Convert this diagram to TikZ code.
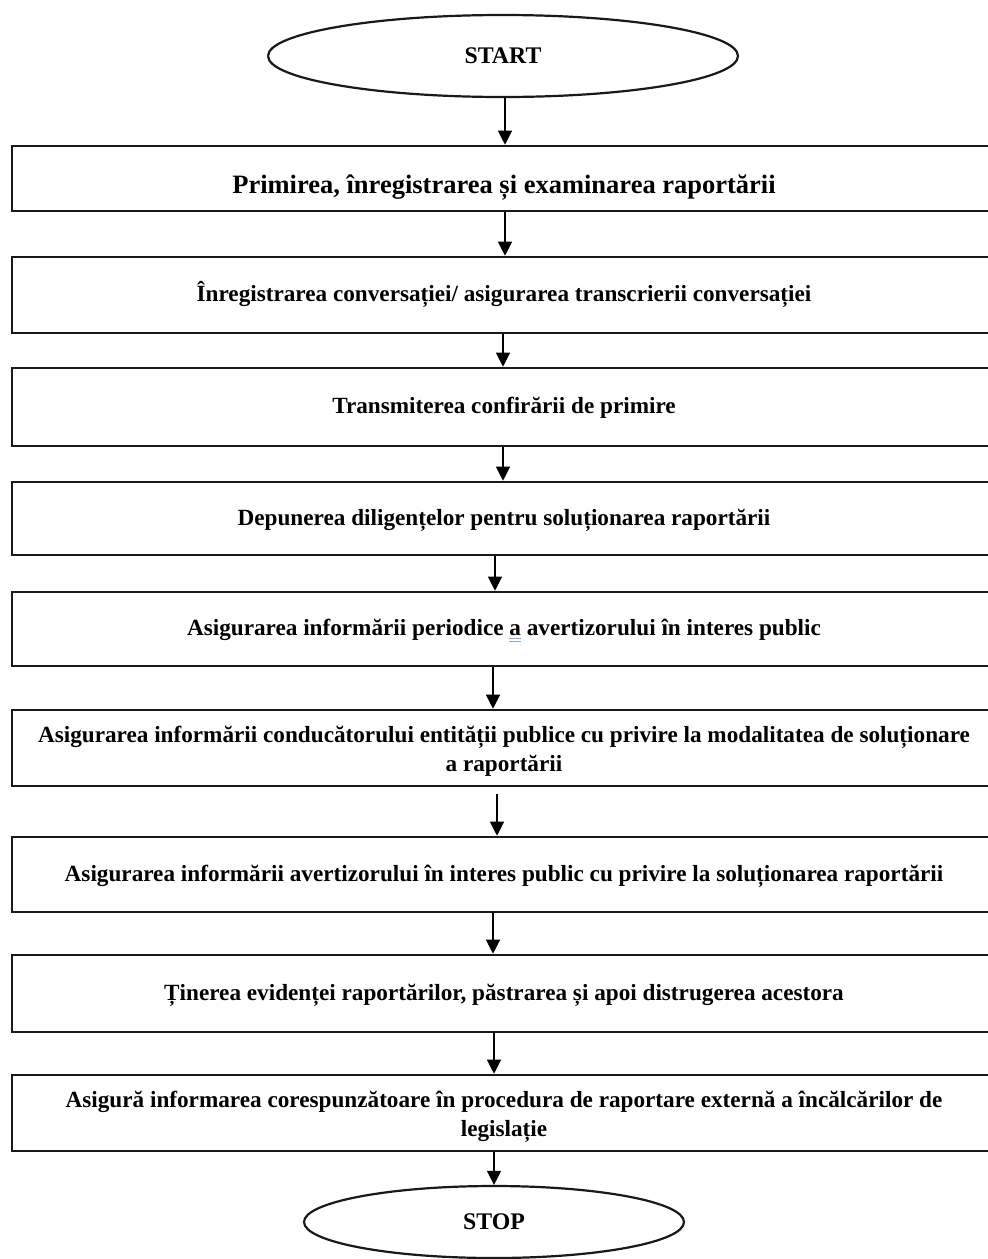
\documentclass[tikz,border=0pt]{standalone}
\usepackage{fontspec}
\setmainfont{Liberation Serif}
\usetikzlibrary{shapes.geometric,arrows.meta}
\definecolor{ulblue}{RGB}{140,165,215}
\newcommand\grammarmark[1]{\setbox0\hbox{#1}\rlap{\textcolor{ulblue}{\rule[-3.5pt]{\wd0}{0.9pt}}}\rlap{\textcolor{ulblue}{\rule[-6pt]{\wd0}{0.9pt}}}#1}
\begin{document}
\begin{tikzpicture}[x=1pt,y=-1pt,
  every node/.style={font=\fontsize{23.2}{29}\selectfont\bfseries},
  procbox/.style={draw=black!90, line width=2.6pt, rectangle, minimum width=984pt, inner sep=0pt, text height=16pt, text depth=3pt},
  procboxtwo/.style={procbox, align=center, text height=50pt, text depth=4pt},
  term/.style={draw=black!90, line width=2.2pt, ellipse, inner sep=0pt, font=\fontsize{23.8}{29}\selectfont\bfseries},
  arr/.style={line width=1.2pt, -{Triangle[width=14pt,length=14pt]}}
]
\useasboundingbox (0,0) rectangle (988,1259);
\fill[white] (0,0) rectangle (988,1259);
\clip (0,0) rectangle (988,1259);

\node[term, minimum width=470pt, minimum height=82pt] (start) at (503,56) {START};
\node[procbox, minimum height=65pt, text height=32pt, font=\fontsize{26.5}{31}\selectfont\bfseries] (b1) at (504,178.5) {Primirea, înregistrarea și examinarea raportării};
\node[procbox, minimum height=76pt] (b2) at (504,295) {Înregistrarea conversației/ asigurarea transcrierii conversației};
\node[procbox, minimum height=78pt] (b3) at (504,407) {Transmiterea confirării de primire};
\node[procbox, minimum height=73pt] (b4) at (504,518.5) {Depunerea diligențelor pentru soluționarea raportării};
\node[procbox, minimum height=74pt] (b5) at (504,629) {Asigurarea informării periodice \grammarmark{a} avertizorului în interes public};
\node[procboxtwo, minimum height=76pt] (b6) at (504,748) {Asigurarea informării conducătorului entității publice cu privire la modalitatea de soluționare\\ a raportării};
\node[procbox, minimum height=75pt] (b7) at (504,874.5) {Asigurarea informării avertizorului în interes public cu privire la soluționarea raportării};
\node[procbox, minimum height=77pt] (b8) at (504,993.5) {Ținerea evidenței raportărilor, păstrarea și apoi distrugerea acestora};
\node[procboxtwo, minimum height=76pt] (b9) at (504,1113) {Asigură informarea corespunzătoare în procedura de raportare externă a încălcărilor de\\ legislație};
\node[term, minimum width=380pt, minimum height=72pt] (stop) at (494,1222) {STOP};

\draw[arr] ([xshift=2pt]start.south) -- ([xshift=1pt]b1.north);
\draw[arr] ([xshift=1pt]b1.south) -- ([xshift=1pt]b2.north);
\draw[arr] ([xshift=-1pt]b2.south) -- ([xshift=-1pt]b3.north);
\draw[arr] ([xshift=-1pt]b3.south) -- ([xshift=-1pt]b4.north);
\draw[arr] ([xshift=-9pt]b4.south) -- ([xshift=-9pt]b5.north);
\draw[arr] ([xshift=-11pt]b5.south) -- ([xshift=-11pt]b6.north);
\draw[arr] ([xshift=-7pt,yshift=-7pt]b6.south) -- ([xshift=-7pt]b7.north);
\draw[arr] ([xshift=-11pt]b7.south) -- ([xshift=-11pt]b8.north);
\draw[arr] ([xshift=-10pt]b8.south) -- ([xshift=-10pt]b9.north);
\draw[arr] ([xshift=-10pt]b9.south) -- (stop.north);
\end{tikzpicture}
\end{document}
